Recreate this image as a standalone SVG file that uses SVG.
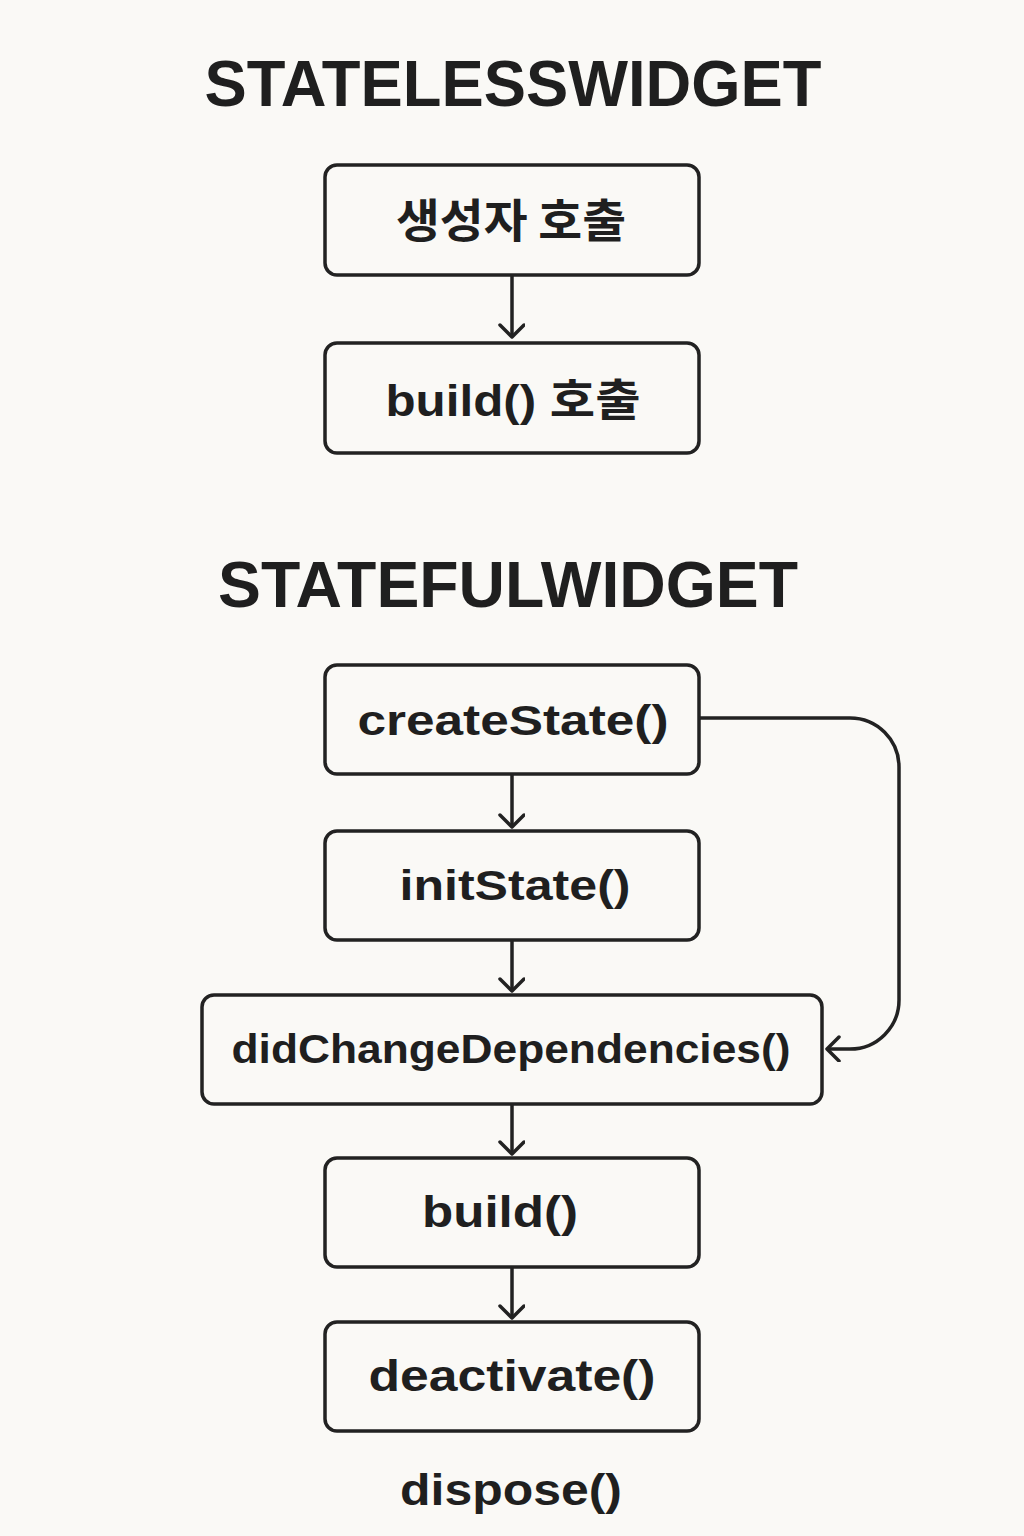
<svg xmlns="http://www.w3.org/2000/svg" width="1024" height="1536" viewBox="0 0 1024 1536">
<style>
.box{fill:#faf9f6;stroke:#222;stroke-width:3.5}
.t{font-family:"Liberation Sans","Noto Sans CJK KR",sans-serif;font-weight:bold;fill:#1f1f1f;text-anchor:middle}
.k{font-family:"Noto Sans CJK KR",sans-serif;font-weight:bold;fill:#1f1f1f;text-anchor:middle}
.h{font-family:"Liberation Sans",sans-serif;font-weight:bold;fill:#1f1f1f;text-anchor:middle}
.c{fill:none;stroke:#222;stroke-width:3.5}
</style>
<defs>
<marker id="ah" markerUnits="userSpaceOnUse" markerWidth="30" markerHeight="30" refX="14" refY="13" orient="auto" viewBox="0 0 30 30">
<path d="M2,1 L14,13 L2,25" fill="none" stroke="#222" stroke-width="3.5" stroke-linecap="round" stroke-linejoin="round"/>
</marker>
</defs>
<rect width="1024" height="1536" fill="#faf9f6"/>
<text class="h" x="513" y="106" font-size="64" textLength="617" lengthAdjust="spacingAndGlyphs">STATELESSWIDGET</text>
<text class="h" x="508" y="607" font-size="64" textLength="580" lengthAdjust="spacingAndGlyphs">STATEFULWIDGET</text>
<g id="n1"><rect class="box" x="325" y="165" width="374" height="110" rx="12"/><text class="k" x="511" y="237" font-size="46" textLength="230" lengthAdjust="spacingAndGlyphs">생성자 호출</text></g>
<g id="n2"><rect class="box" x="325" y="343" width="374" height="110" rx="12"/><text class="t" x="513" y="416" font-size="44" textLength="255" lengthAdjust="spacingAndGlyphs">build() 호출</text></g>
<g id="n3"><rect class="box" x="325" y="665" width="374" height="109" rx="12"/><text class="t" x="513" y="735" font-size="42" textLength="311" lengthAdjust="spacingAndGlyphs">createState()</text></g>
<g id="n4"><rect class="box" x="325" y="831" width="374" height="109" rx="12"/><text class="t" x="515" y="900" font-size="42" textLength="231" lengthAdjust="spacingAndGlyphs">initState()</text></g>
<g id="n5"><rect class="box" x="202" y="995" width="620" height="109" rx="12"/><text class="t" x="511" y="1063" font-size="40" textLength="559" lengthAdjust="spacingAndGlyphs">didChangeDependencies()</text></g>
<g id="n6"><rect class="box" x="325" y="1158" width="374" height="109" rx="12"/><text class="t" x="500" y="1227" font-size="44" textLength="156" lengthAdjust="spacingAndGlyphs">build()</text></g>
<g id="n7"><rect class="box" x="325" y="1322" width="374" height="109" rx="12"/><text class="t" x="512" y="1391" font-size="44" textLength="287" lengthAdjust="spacingAndGlyphs">deactivate()</text></g>
<g id="n8"><text class="t" x="511" y="1505" font-size="44" textLength="222" lengthAdjust="spacingAndGlyphs">dispose()</text></g>
<g id="connectors">
<line class="c" x1="512" y1="276" x2="512" y2="337" marker-end="url(#ah)"/>
<line class="c" x1="512" y1="775" x2="512" y2="827" marker-end="url(#ah)"/>
<line class="c" x1="512" y1="941" x2="512" y2="991" marker-end="url(#ah)"/>
<line class="c" x1="512" y1="1105" x2="512" y2="1154" marker-end="url(#ah)"/>
<line class="c" x1="512" y1="1268" x2="512" y2="1318" marker-end="url(#ah)"/>
<path class="c" d="M699,718 H850 A49,49 0 0 1 899,767 V1000 A49,49 0 0 1 850,1049 H827" marker-end="url(#ah)"/>
</g>
</svg>
